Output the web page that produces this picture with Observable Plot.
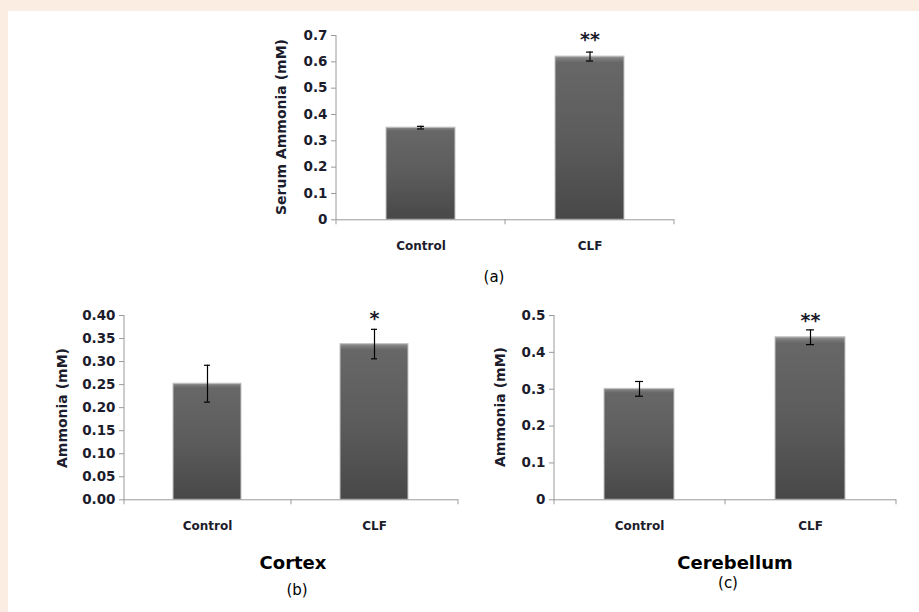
<!DOCTYPE html>
<html>
<head>
<meta charset="utf-8">
<script src="https://cdn.jsdelivr.net/npm/d3@7"></script>
<script src="https://cdn.jsdelivr.net/npm/@observablehq/plot@0.6"></script>
<style>
  html, body { margin: 0; padding: 0; }
  body { width: 919px; height: 612px; background: #fcede3; position: relative; overflow: hidden; font-family: "DejaVu Sans", sans-serif; }
  #sheet { position: absolute; left: 8px; top: 11px; width: 911px; height: 601px; background: #ffffff; }
  .panel { position: absolute; }
  .lab { position: absolute; white-space: nowrap; color: #1c1c2c; transform: translate(-50%, -50%); }
  .ylab { position: absolute; white-space: nowrap; color: #1c1c2c; font-weight: bold; font-size: 14px; transform: translate(-50%, -50%) rotate(-90deg); }
  .title { font-weight: bold; font-size: 18px; color: #000; }
  .tag { font-size: 15px; color: #000; }
</style>
</head>
<body>
<div id="sheet"></div>
<script>
// ---- data ----
const categories = ["Control", "CLF"];

// (a) Serum ammonia
const serumValues = [0.35, 0.62];
const serumErrors = [0.005, 0.017];
const serumStars = ["", "**"];
const serumTicks = [0, 0.1, 0.2, 0.3, 0.4, 0.5, 0.6, 0.7];
const serumTickLabels = ["0", "0.1", "0.2", "0.3", "0.4", "0.5", "0.6", "0.7"];

// (b) Cortex
const cortexValues = [0.252, 0.338];
const cortexErrors = [0.04, 0.032];
const cortexStars = ["", "*"];
const cortexTicks = [0, 0.05, 0.10, 0.15, 0.20, 0.25, 0.30, 0.35, 0.40];
const cortexTickLabels = ["0.00", "0.05", "0.10", "0.15", "0.20", "0.25", "0.30", "0.35", "0.40"];

// (c) Cerebellum
const cerebValues = [0.301, 0.441];
const cerebErrors = [0.02, 0.02];
const cerebStars = ["", "**"];
const cerebTicks = [0, 0.1, 0.2, 0.3, 0.4, 0.5];
const cerebTickLabels = ["0", "0.1", "0.2", "0.3", "0.4", "0.5"];

const sheet = document.getElementById("sheet");
const OX = 8, OY = 11; // sheet offset

function makePanel(cfg) {
  const rows = categories.map((c, i) => ({cat: c, val: cfg.values[i], err: cfg.errors[i], star: cfg.stars[i]}));
  const yMax = cfg.ticks[cfg.ticks.length - 1];
  const plot = Plot.plot({
    width: cfg.width,
    height: cfg.height,
    marginLeft: cfg.marginLeft,
    marginRight: cfg.marginRight,
    marginTop: cfg.marginTop,
    marginBottom: cfg.marginBottom,
    style: {fontFamily: "'DejaVu Sans', sans-serif", background: "transparent", overflow: "visible", color: "#1c1c2c"},
    x: {domain: categories, paddingInner: 0.59, paddingOuter: 0.295, axis: null},
    y: {domain: [0, yMax], axis: null},
    marks: [
      Plot.axisY({ticks: cfg.ticks, tickSize: 5, tickPadding: 4, tickFormat: d => cfg.tickLabels[cfg.ticks.indexOf(d)],
        stroke: "#9a9a9a", fill: "#1c1c2c", fontWeight: "bold", fontSize: 13.5, label: null}),
      Plot.axisX({tickSize: 0, tickPadding: 22, fill: "#1c1c2c", fontWeight: "bold", fontSize: 12, label: null}),
      Plot.barY(rows, {x: "cat", y: "val", fill: "url(#barGrad)", stroke: "#c4c4c4", strokeWidth: 1}),
      Plot.ruleY([0], {stroke: "#9a9a9a"}),
      Plot.ruleX(rows, {x: "cat", y1: d => d.val - d.err, y2: d => d.val + d.err, stroke: "#000", strokeWidth: 1.2}),
      Plot.tickY(rows, {x: "cat", y: d => d.val + d.err, stroke: "#000", strokeWidth: 1.2, insetLeft: 31, insetRight: 31}),
      Plot.tickY(rows, {x: "cat", y: d => d.val - d.err, stroke: "#000", strokeWidth: 1.2, insetLeft: 31, insetRight: 31}),
      Plot.text(rows, {x: "cat", y: d => d.val + d.err, text: "star", dy: cfg.starDy, fontSize: 19, fontWeight: "bold", fill: "#1c1c2c"})
    ]
  });
  // gradient for bars
  const svg = d3.select(plot);
  const defs = svg.insert("defs", ":first-child");
  const g = defs.append("linearGradient").attr("id", "barGrad").attr("x1", 0).attr("y1", 0).attr("x2", 0).attr("y2", 1);
  [["0%", "#a0a0a0"], ["1.5%", "#7e7e7e"], ["4%", "#676767"], ["50%", "#5c5c5c"], ["100%", "#484848"]]
    .forEach(([o, c]) => g.append("stop").attr("offset", o).attr("stop-color", c));
  // y axis line and category boundary ticks from the plot's scales
  const sx = plot.scale("x"), sy = plot.scale("y");
  const y0 = sy.apply(0), yTop = sy.apply(yMax);
  const axes = svg.append("g").attr("stroke", "#9a9a9a").attr("fill", "none");
  axes.append("line").attr("x1", sx.range[0]).attr("x2", sx.range[0]).attr("y1", yTop).attr("y2", y0);
  for (let i = 0; i <= categories.length; i++) {
    const bx = sx.range[0] + i * sx.step;
    axes.append("line").attr("x1", bx).attr("x2", bx).attr("y1", y0).attr("y2", y0 + 5);
  }
  const wrap = document.createElement("div");
  wrap.className = "panel";
  wrap.style.left = (cfg.left - OX) + "px";
  wrap.style.top = (cfg.top - OY) + "px";
  wrap.appendChild(plot);
  sheet.appendChild(wrap);
}

function addLabel(text, cls, cx, cy) {
  const d = document.createElement("div");
  d.className = cls;
  d.textContent = text;
  d.style.left = (cx - OX) + "px";
  d.style.top = (cy - OY) + "px";
  sheet.appendChild(d);
}

makePanel({values: serumValues, errors: serumErrors, stars: serumStars, ticks: serumTicks, tickLabels: serumTickLabels,
  left: 236, top: 20, width: 450, height: 240, marginLeft: 100, marginRight: 12, marginTop: 15, marginBottom: 40.7, starDy: -12});
makePanel({values: cortexValues, errors: cortexErrors, stars: cortexStars, ticks: cortexTicks, tickLabels: cortexTickLabels,
  left: 24, top: 300, width: 450, height: 240, marginLeft: 100, marginRight: 16, marginTop: 15, marginBottom: 40.7, starDy: -10});
makePanel({values: cerebValues, errors: cerebErrors, stars: cerebStars, ticks: cerebTicks, tickLabels: cerebTickLabels,
  left: 454, top: 300, width: 460, height: 240, marginLeft: 100, marginRight: 18, marginTop: 15, marginBottom: 40.7, starDy: -9});

addLabel("Serum Ammonia  (mM)", "ylab", 281, 127);
addLabel("Ammonia  (mM)", "ylab", 62, 408);
addLabel("Ammonia (mM)", "ylab", 500, 407);
addLabel("(a)", "lab tag", 494, 277);
addLabel("Cortex", "lab title", 293, 562);
addLabel("(b)", "lab tag", 297, 590);
addLabel("Cerebellum", "lab title", 735, 562);
addLabel("(c)", "lab tag", 728, 583);
</script>
</body>
</html>
